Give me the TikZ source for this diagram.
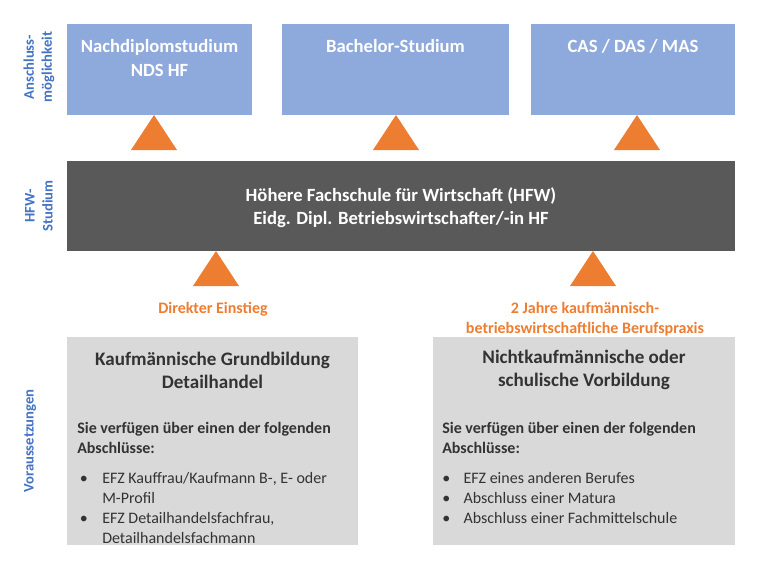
\documentclass[tikz,border=0pt]{standalone}
\usepackage{fontspec}
\setmainfont{Carlito}
\definecolor{optblue}{HTML}{8EA9DB}
\definecolor{hfwgray}{HTML}{595959}
\definecolor{entryorange}{HTML}{ED7D31}
\definecolor{reqgray}{HTML}{D9D9D9}
\definecolor{sideblue}{HTML}{4472C4}
\definecolor{ink}{HTML}{333333}

\begin{document}
\begin{tikzpicture}[
  x=0.75pt,
  y=-0.75pt,
  optbox/.style={fill=optblue,minimum width=#1*0.75pt,minimum height=91*0.75pt,inner sep=0pt},
  reqbox/.style={fill=reqgray,minimum width=#1*0.75pt,minimum height=208*0.75pt,inner sep=0pt},
  boxtitle/.style={font=\fontsize{14}{18}\selectfont\bfseries,text=white,align=center,inner sep=0pt},
  reqtitle/.style={font=\fontsize{14.3}{17.3}\selectfont\bfseries,text=ink,align=center,inner sep=0pt},
  reqtext/.style={font=\fontsize{12}{15}\selectfont,text=ink,align=left,inner sep=0pt,anchor=north west},
  entrytext/.style={font=\fontsize{12}{15}\selectfont\bfseries,text=entryorange,align=center,inner sep=0pt},
  sidelabel/.style={font=\fontsize{11}{13.5}\selectfont\bfseries,text=sideblue,align=center,rotate=90,inner sep=0pt},
  uptri/.style={fill=entryorange}
]
\useasboundingbox (0,0) rectangle (769,565);

% Anschlussmoeglichkeiten
\node[optbox=185] (nds) at (159.5,69.5) {};
\node[optbox=227] (bach) at (395.5,69.5) {};
\node[optbox=204] (cas) at (633,69.5) {};
\node[boxtitle] (ndstext) at (159.5,58) {Nachdiplomstudium\\NDS HF};
\node[boxtitle] (bachtext) at (395.5,46) {Bachelor-Studium};
\node[boxtitle] (castext) at (633,46) {CAS / DAS / MAS};

% HFW
\node[fill=hfwgray,minimum width=668*0.75pt,minimum height=90*0.75pt,inner sep=0pt]
  (hfw) at (401,206) {};
\node[boxtitle,font=\fontsize{14}{17.3}\selectfont\bfseries] (hfwtext) at (401,208)
  {Höhere Fachschule für Wirtschaft (HFW)\\Eidg. Dipl. Betriebswirtschafter/-in HF};

\foreach \tx in {154,396,637}
  \fill[uptri] (\tx-23,150) -- (\tx,115) -- (\tx+23,150) -- cycle;
\foreach \tx in {216,593}
  \fill[uptri] (\tx-23,286) -- (\tx,251) -- (\tx+23,286) -- cycle;

\node[entrytext] (direkt) at (213,309) {Direkter Einstieg};
\node[entrytext] (praxis) at (585,319) {2 Jahre kaufmännisch-\\betriebswirtschaftliche Berufspraxis};

% Voraussetzungen
\node[reqbox=291] (kv) at (212.5,441) {};
\node[reqbox=302] (nkv) at (584,441) {};
\node[reqtitle] (kvtitle) at (212.5,370) {Kaufmännische Grundbildung\\Detailhandel};
\node[reqtitle] (nkvtitle) at (584,370) {Nichtkaufmännische oder\\schulische Vorbildung};
\node[reqtext,font=\fontsize{12}{15.3}\selectfont\bfseries] (kvsub) at (77,422)
  {Sie verfügen über einen der folgenden\\Abschlüsse:};
\node[reqtext,font=\fontsize{12}{15.3}\selectfont\bfseries] (nkvsub) at (442,422)
  {Sie verfügen über einen der folgenden\\Abschlüsse:};
\node[reqtext] (kvlist) at (77,472)
  {\makebox[18.75pt][l]{\,•}EFZ Kauffrau/Kaufmann B-, E- oder\\
   \hspace*{18.75pt}M-Profil\\
   \makebox[18.75pt][l]{\,•}EFZ Detailhandelsfachfrau,\\
   \hspace*{18.75pt}Detailhandelsfachmann};
\node[reqtext] (nkvlist) at (442,472)
  {\makebox[16pt][l]{•}EFZ eines anderen Berufes\\
   \makebox[16pt][l]{•}Abschluss einer Matura\\
   \makebox[16pt][l]{•}Abschluss einer Fachmittelschule};

\node[sidelabel] (anschluss) at (39,67) {Anschluss-\\möglichkeit};
\node[sidelabel] (studium) at (39,206) {HFW-\\Studium};
\node[sidelabel] (voraus) at (30,441) {Voraussetzungen};
\end{tikzpicture}
\end{document}
